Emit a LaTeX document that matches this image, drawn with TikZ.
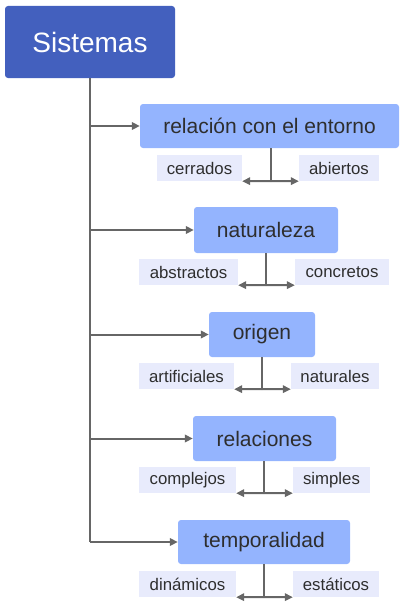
\documentclass[tikz,border=0pt]{standalone}
\usepackage{fontspec}
\setmainfont{Liberation Sans}
\usetikzlibrary{arrows.meta}
\definecolor{titlecol}{HTML}{4360BE}
\definecolor{catcol}{HTML}{94B4FE}
\definecolor{subcol}{HTML}{E8EBFC}
\definecolor{linecol}{HTML}{666666}
\definecolor{txtcol}{HTML}{2E2E2E}
\begin{document}
\begin{tikzpicture}[x=1pt,y=-1pt,
  titlebox/.style={fill=titlecol,text=white,rounded corners=3pt,inner sep=0pt,font=\fontsize{28}{32}\selectfont},
  catbox/.style={fill=catcol,text=txtcol,rounded corners=3pt,inner sep=0pt,font=\fontsize{21}{25}\selectfont},
  subbox/.style={fill=subcol,text=txtcol,inner sep=0pt,font=\fontsize{16.8}{20}\selectfont},
  conn/.style={draw=linecol,line width=2pt},
  arr/.style={conn,-{Triangle[length=8pt,width=7.5pt]}}]
\useasboundingbox (0,0) rectangle (399,602);
\node[titlebox,minimum width=170pt,minimum height=72pt] (t) at (90,42) {Sistemas};
% categories
\node[catbox,minimum width=259pt,minimum height=44pt] (c1) at (269.5,126) {relación con el entorno};
\node[catbox,minimum width=144pt,minimum height=46pt] (c2) at (266,230) {naturaleza};
\node[catbox,minimum width=106pt,minimum height=45pt] (c3) at (262,334.5) {origen};
\node[catbox,minimum width=143pt,minimum height=45pt] (c4) at (264.5,438.5) {relaciones};
\node[catbox,minimum width=172pt,minimum height=44pt] (c5) at (264,542) {temporalidad};
% sub boxes
\node[subbox,minimum width=85pt,minimum height=26pt] (s1a) at (199.5,168) {cerrados};
\node[subbox,minimum width=80pt,minimum height=26pt] (s1b) at (339,168) {abiertos};
\node[subbox,minimum width=99pt,minimum height=26pt] (s2a) at (188.5,272) {abstractos};
\node[subbox,minimum width=94pt,minimum height=26pt] (s2b) at (342,272) {concretos};
\node[subbox,minimum width=95pt,minimum height=26pt] (s3a) at (186.5,376) {artificiales};
\node[subbox,minimum width=88pt,minimum height=26pt] (s3b) at (335,376) {naturales};
\node[subbox,minimum width=97pt,minimum height=26pt] (s4a) at (187.5,480) {complejos};
\node[subbox,minimum width=77pt,minimum height=26pt] (s4b) at (331.5,480) {simples};
\node[subbox,minimum width=97pt,minimum height=26pt] (s5a) at (187.5,584) {dinámicos};
\node[subbox,minimum width=86pt,minimum height=26pt] (s5b) at (336,584) {estáticos};
% trunk
\coordinate (tk) at (90,542);
\draw[conn] (t.south) -- (tk);
\foreach \i in {1,...,4} {\draw[arr] (t.south |- c\i.west) -- (c\i.west);}
\draw[arr] (tk) -- (c5.west);
% junctions
\coordinate (j1) at (271,181);
\coordinate (j2) at (266,285);
\coordinate (j3) at (262,389);
\coordinate (j4) at (264,493);
\coordinate (j5) at (264,597);
\foreach \i in {1,...,5} {
  \draw[conn] (c\i.south -| j\i) -- (j\i);
  \draw[arr] (j\i) -- (s\i a.south east);
  \draw[arr] (j\i) -- (s\i b.south west);
}
\end{tikzpicture}
\end{document}
